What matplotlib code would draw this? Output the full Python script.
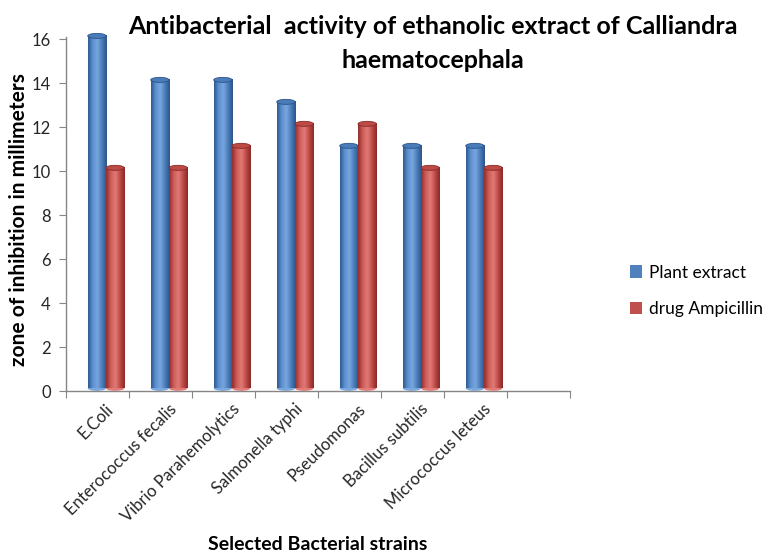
import matplotlib
matplotlib.use("Agg")
import matplotlib.pyplot as plt
import numpy as np
from matplotlib.colors import LinearSegmentedColormap
from matplotlib.patches import Ellipse, Patch

categories = ["E.Coli", "Enterococcus fecalis", "Vibrio Parahemolytics",
              "Salmonella typhi", "Pseudomonas", "Bacillus subtilis",
              "Micrococcus leteus"]
plant_extract = [16, 14, 14, 13, 11, 11, 11]
drug_ampicillin = [10, 10, 11, 12, 12, 10, 10]
series_names = ["Plant extract", "drug Ampicillin"]
yticks = [0, 2, 4, 6, 8, 10, 12, 14, 16]

plt.rcParams['font.family'] = ['Lato', 'DejaVu Sans']

fig = plt.figure(figsize=(7.64, 5.52), dpi=100)
ax = fig.add_axes([66/764, 1-391/552, 504/764, (391-37)/552])

n_slots = len(categories) + 1
width = 0.29
offsets = [0.49, 0.78]
base_cols = ["#4F81BD", "#C0504D"]
grad_cols = [["#2F5A91", "#5D91D0", "#79A7DE", "#4A7CBA", "#2C5489"],
             ["#8E2F2C", "#CF5D59", "#E07B77", "#BE4A46", "#882A27"]]
px_per_unit = 354/16.1
ell_h = 5/px_per_unit

for s, vals in enumerate([plant_extract, drug_ampicillin]):
    cmap = LinearSegmentedColormap.from_list("c%d" % s, grad_cols[s])
    grad = np.linspace(0, 1, 64).reshape(1, -1)
    for i, v in enumerate(vals):
        xc = i + offsets[s]
        x0, x1 = xc - width/2, xc + width/2
        ax.imshow(grad, cmap=cmap, extent=[x0, x1, 0.12, v + 0.15],
                  aspect='auto', interpolation='bicubic', zorder=2 + s,
                  clip_on=False)
        ax.add_patch(Ellipse((xc, v + 0.15), width, ell_h,
                             facecolor=grad_cols[s][3], edgecolor=grad_cols[s][4],
                             lw=0.6, zorder=2.5 + s, clip_on=False))
        ax.add_patch(Ellipse((xc, 0.12), width, ell_h,
                             facecolor=grad_cols[s][2], edgecolor='none',
                             zorder=1.9 + s, clip_on=False))

ax.set_xlim(0, n_slots)
ax.set_ylim(0, 16.1)
ax.set_xticks(np.arange(0, n_slots + 1))
ax.set_xticklabels([])
ax.set_xticks(np.arange(len(categories)) + 0.62, minor=True)
ax.set_xticklabels(categories, minor=True, rotation=45, ha='right',
                   rotation_mode='anchor', fontsize=12, color='#262626')
ax.tick_params(axis='x', which='minor', length=0, pad=7)
ax.tick_params(axis='x', which='major', length=5, color='#868686', direction='out')
ax.set_yticks(yticks)
ax.set_yticklabels([str(t) for t in yticks], fontsize=12, color='#262626')
ax.tick_params(axis='y', length=5, color='#868686', direction='out', pad=6)

for sp in ['top', 'right']:
    ax.spines[sp].set_visible(False)
for sp in ['left', 'bottom']:
    ax.spines[sp].set_color('#868686')
    ax.spines[sp].set_linewidth(1.0)

fig.text(19/764, 1-220/552, "zone of inhibition in millimeters", rotation=90,
         ha='center', va='center', fontsize=15, fontweight='bold')

fig.text(318/764, 1-545/552, "Selected Bacterial strains", ha='center',
         va='center', fontsize=14, fontweight='bold')
fig.text(433/764, 1-27/552, "Antibacterial  activity of ethanolic extract of Calliandra",
         ha='center', va='center', fontsize=18, fontweight='bold')
fig.text(433/764, 1-60/552, "haematocephala", ha='center', va='center',
         fontsize=18, fontweight='bold')

handles = [Patch(facecolor=c, edgecolor='none') for c in base_cols]
fig.legend(handles, series_names, loc='center left',
           bbox_to_anchor=(614/764, 1-291/552), frameon=False, fontsize=12.5,
           handlelength=0.7, handleheight=0.7, handletextpad=0.4,
           labelspacing=1.2)

fig.savefig("out.png", dpi=100)
